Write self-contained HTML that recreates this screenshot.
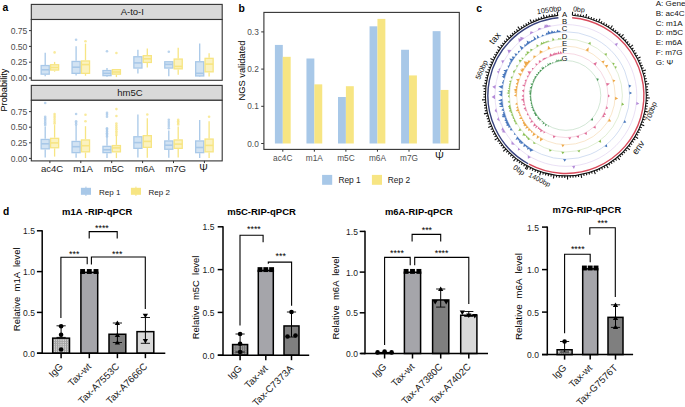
<!DOCTYPE html>
<html><head><meta charset="utf-8"><style>
html,body{margin:0;padding:0;background:#fff;width:685px;height:407px;overflow:hidden}
svg{display:block}
text{font-family:"Liberation Sans",sans-serif}
</style></head><body>
<svg width="685" height="407" viewBox="0 0 685 407">
<rect width="685" height="407" fill="#fff"/>
<text x="2.50" y="10.70" font-size="10.4" fill="#000" font-weight="bold">a</text>
<text x="238.60" y="11.60" font-size="10.4" fill="#000" font-weight="bold">b</text>
<text x="476.30" y="11.80" font-size="10.4" fill="#000" font-weight="bold">c</text>
<text x="3.00" y="214.80" font-size="10.2" fill="#000" font-weight="bold">d</text>
<rect x="31.30" y="4.40" width="190.90" height="15.10" fill="#d9d9d9" stroke="#333333" stroke-width="1.1"/>
<text x="132.30" y="15.45" font-size="9.5" fill="#1a1a1a" text-anchor="middle">A-to-I</text>
<rect x="31.30" y="85.40" width="190.90" height="14.90" fill="#d9d9d9" stroke="#333333" stroke-width="1.1"/>
<text x="130.00" y="96.35" font-size="9.5" fill="#1a1a1a" text-anchor="middle">hm5C</text>
<rect x="31.30" y="19.50" width="190.90" height="60.80" fill="#fff"/>
<line x1="45.20" y1="52.70" x2="45.20" y2="64.90" stroke="#a8c8e8" stroke-width="1.3"/>
<line x1="45.20" y1="74.80" x2="45.20" y2="76.30" stroke="#a8c8e8" stroke-width="1.3"/>
<rect x="41.15" y="65.55" width="8.10" height="8.60" fill="#d2e3f3" stroke="#a8c8e8" stroke-width="1.3"/>
<line x1="41.15" y1="69.80" x2="49.25" y2="69.80" stroke="#a8c8e8" stroke-width="1.6"/>
<line x1="54.60" y1="61.90" x2="54.60" y2="64.10" stroke="#f7e583" stroke-width="1.3"/>
<line x1="54.60" y1="70.70" x2="54.60" y2="71.70" stroke="#f7e583" stroke-width="1.3"/>
<rect x="50.55" y="64.75" width="8.10" height="5.30" fill="#fbf2c0" stroke="#f7e583" stroke-width="1.3"/>
<line x1="50.55" y1="67.50" x2="58.65" y2="67.50" stroke="#f7e583" stroke-width="1.6"/>
<circle cx="54.60" cy="52.40" r="1.3" fill="#f7e583" fill-opacity="0.8"/>
<line x1="76.10" y1="46.20" x2="76.10" y2="60.80" stroke="#a8c8e8" stroke-width="1.3"/>
<line x1="76.10" y1="74.00" x2="76.10" y2="75.60" stroke="#a8c8e8" stroke-width="1.3"/>
<rect x="72.05" y="61.45" width="8.10" height="11.90" fill="#d2e3f3" stroke="#a8c8e8" stroke-width="1.3"/>
<line x1="72.05" y1="67.20" x2="80.15" y2="67.20" stroke="#a8c8e8" stroke-width="1.6"/>
<circle cx="76.10" cy="39.80" r="1.3" fill="#a8c8e8" fill-opacity="0.8"/>
<line x1="85.50" y1="43.60" x2="85.50" y2="60.30" stroke="#f7e583" stroke-width="1.3"/>
<line x1="85.50" y1="74.00" x2="85.50" y2="75.80" stroke="#f7e583" stroke-width="1.3"/>
<rect x="81.45" y="60.95" width="8.10" height="12.40" fill="#fbf2c0" stroke="#f7e583" stroke-width="1.3"/>
<line x1="81.45" y1="64.60" x2="89.55" y2="64.60" stroke="#f7e583" stroke-width="1.6"/>
<circle cx="85.50" cy="41.30" r="1.3" fill="#f7e583" fill-opacity="0.8"/>
<line x1="107.00" y1="68.00" x2="107.00" y2="69.90" stroke="#a8c8e8" stroke-width="1.3"/>
<line x1="107.00" y1="76.30" x2="107.00" y2="77.00" stroke="#a8c8e8" stroke-width="1.3"/>
<rect x="102.95" y="70.55" width="8.10" height="5.10" fill="#d2e3f3" stroke="#a8c8e8" stroke-width="1.3"/>
<line x1="102.95" y1="73.30" x2="111.05" y2="73.30" stroke="#a8c8e8" stroke-width="1.6"/>
<circle cx="107.00" cy="51.20" r="1.3" fill="#a8c8e8" fill-opacity="0.8"/>
<line x1="116.40" y1="69.00" x2="116.40" y2="69.00" stroke="#f7e583" stroke-width="1.3"/>
<line x1="116.40" y1="74.80" x2="116.40" y2="77.10" stroke="#f7e583" stroke-width="1.3"/>
<rect x="112.35" y="69.65" width="8.10" height="4.50" fill="#fbf2c0" stroke="#f7e583" stroke-width="1.3"/>
<line x1="112.35" y1="72.00" x2="120.45" y2="72.00" stroke="#f7e583" stroke-width="1.6"/>
<circle cx="116.40" cy="53.00" r="1.3" fill="#f7e583" fill-opacity="0.8"/>
<line x1="137.90" y1="49.70" x2="137.90" y2="56.10" stroke="#a8c8e8" stroke-width="1.3"/>
<line x1="137.90" y1="68.70" x2="137.90" y2="73.60" stroke="#a8c8e8" stroke-width="1.3"/>
<rect x="133.85" y="56.75" width="8.10" height="11.30" fill="#d2e3f3" stroke="#a8c8e8" stroke-width="1.3"/>
<line x1="133.85" y1="62.90" x2="141.95" y2="62.90" stroke="#a8c8e8" stroke-width="1.6"/>
<line x1="147.30" y1="48.60" x2="147.30" y2="55.00" stroke="#f7e583" stroke-width="1.3"/>
<line x1="147.30" y1="63.10" x2="147.30" y2="67.50" stroke="#f7e583" stroke-width="1.3"/>
<rect x="143.25" y="55.65" width="8.10" height="6.80" fill="#fbf2c0" stroke="#f7e583" stroke-width="1.3"/>
<line x1="143.25" y1="58.80" x2="151.35" y2="58.80" stroke="#f7e583" stroke-width="1.6"/>
<line x1="168.80" y1="61.10" x2="168.80" y2="61.10" stroke="#a8c8e8" stroke-width="1.3"/>
<line x1="168.80" y1="68.70" x2="168.80" y2="76.30" stroke="#a8c8e8" stroke-width="1.3"/>
<rect x="164.75" y="61.75" width="8.10" height="6.30" fill="#d2e3f3" stroke="#a8c8e8" stroke-width="1.3"/>
<line x1="164.75" y1="64.40" x2="172.85" y2="64.40" stroke="#a8c8e8" stroke-width="1.6"/>
<circle cx="168.80" cy="51.70" r="1.3" fill="#a8c8e8" fill-opacity="0.8"/>
<line x1="178.20" y1="47.70" x2="178.20" y2="58.40" stroke="#f7e583" stroke-width="1.3"/>
<line x1="178.20" y1="69.50" x2="178.20" y2="74.80" stroke="#f7e583" stroke-width="1.3"/>
<rect x="174.15" y="59.05" width="8.10" height="9.80" fill="#fbf2c0" stroke="#f7e583" stroke-width="1.3"/>
<line x1="174.15" y1="66.40" x2="182.25" y2="66.40" stroke="#f7e583" stroke-width="1.6"/>
<line x1="199.70" y1="43.60" x2="199.70" y2="61.10" stroke="#a8c8e8" stroke-width="1.3"/>
<line x1="199.70" y1="76.60" x2="199.70" y2="77.00" stroke="#a8c8e8" stroke-width="1.3"/>
<rect x="195.65" y="61.75" width="8.10" height="14.20" fill="#d2e3f3" stroke="#a8c8e8" stroke-width="1.3"/>
<line x1="195.65" y1="73.30" x2="203.75" y2="73.30" stroke="#a8c8e8" stroke-width="1.6"/>
<line x1="209.10" y1="53.20" x2="209.10" y2="57.70" stroke="#f7e583" stroke-width="1.3"/>
<line x1="209.10" y1="72.50" x2="209.10" y2="76.60" stroke="#f7e583" stroke-width="1.3"/>
<rect x="205.05" y="58.35" width="8.10" height="13.50" fill="#fbf2c0" stroke="#f7e583" stroke-width="1.3"/>
<line x1="205.05" y1="64.10" x2="213.15" y2="64.10" stroke="#f7e583" stroke-width="1.6"/>
<rect x="31.30" y="19.50" width="190.90" height="60.80" fill="none" stroke="#333333" stroke-width="1.1"/>
<rect x="31.30" y="100.30" width="190.90" height="60.60" fill="#fff"/>
<line x1="45.20" y1="126.60" x2="45.20" y2="138.80" stroke="#a8c8e8" stroke-width="1.3"/>
<line x1="45.20" y1="149.50" x2="45.20" y2="157.50" stroke="#a8c8e8" stroke-width="1.3"/>
<rect x="41.15" y="139.45" width="8.10" height="9.40" fill="#d2e3f3" stroke="#a8c8e8" stroke-width="1.3"/>
<line x1="41.15" y1="143.80" x2="49.25" y2="143.80" stroke="#a8c8e8" stroke-width="1.6"/>
<circle cx="45.20" cy="103.00" r="1.3" fill="#a8c8e8" fill-opacity="0.8"/>
<circle cx="45.20" cy="116.70" r="1.3" fill="#a8c8e8" fill-opacity="0.8"/>
<circle cx="45.20" cy="118.38" r="1.3" fill="#a8c8e8" fill-opacity="0.8"/>
<circle cx="45.20" cy="120.06" r="1.3" fill="#a8c8e8" fill-opacity="0.8"/>
<circle cx="45.20" cy="121.74" r="1.3" fill="#a8c8e8" fill-opacity="0.8"/>
<circle cx="45.20" cy="123.42" r="1.3" fill="#a8c8e8" fill-opacity="0.8"/>
<circle cx="45.20" cy="125.10" r="1.3" fill="#a8c8e8" fill-opacity="0.8"/>
<line x1="54.60" y1="125.10" x2="54.60" y2="137.70" stroke="#f7e583" stroke-width="1.3"/>
<line x1="54.60" y1="148.40" x2="54.60" y2="156.60" stroke="#f7e583" stroke-width="1.3"/>
<rect x="50.55" y="138.35" width="8.10" height="9.40" fill="#fbf2c0" stroke="#f7e583" stroke-width="1.3"/>
<line x1="50.55" y1="142.90" x2="58.65" y2="142.90" stroke="#f7e583" stroke-width="1.6"/>
<circle cx="54.60" cy="114.00" r="1.3" fill="#f7e583" fill-opacity="0.8"/>
<circle cx="54.60" cy="115.92" r="1.3" fill="#f7e583" fill-opacity="0.8"/>
<circle cx="54.60" cy="117.84" r="1.3" fill="#f7e583" fill-opacity="0.8"/>
<circle cx="54.60" cy="119.76" r="1.3" fill="#f7e583" fill-opacity="0.8"/>
<circle cx="54.60" cy="121.68" r="1.3" fill="#f7e583" fill-opacity="0.8"/>
<circle cx="54.60" cy="123.60" r="1.3" fill="#f7e583" fill-opacity="0.8"/>
<line x1="76.10" y1="125.10" x2="76.10" y2="140.80" stroke="#a8c8e8" stroke-width="1.3"/>
<line x1="76.10" y1="153.30" x2="76.10" y2="157.80" stroke="#a8c8e8" stroke-width="1.3"/>
<rect x="72.05" y="141.45" width="8.10" height="11.20" fill="#d2e3f3" stroke="#a8c8e8" stroke-width="1.3"/>
<line x1="72.05" y1="146.70" x2="80.15" y2="146.70" stroke="#a8c8e8" stroke-width="1.6"/>
<circle cx="76.10" cy="114.00" r="1.3" fill="#a8c8e8" fill-opacity="0.8"/>
<circle cx="76.10" cy="121.30" r="1.3" fill="#a8c8e8" fill-opacity="0.8"/>
<circle cx="76.10" cy="122.80" r="1.3" fill="#a8c8e8" fill-opacity="0.8"/>
<circle cx="76.10" cy="124.40" r="1.3" fill="#a8c8e8" fill-opacity="0.8"/>
<line x1="85.50" y1="126.20" x2="85.50" y2="139.30" stroke="#f7e583" stroke-width="1.3"/>
<line x1="85.50" y1="152.50" x2="85.50" y2="158.10" stroke="#f7e583" stroke-width="1.3"/>
<rect x="81.45" y="139.95" width="8.10" height="11.90" fill="#fbf2c0" stroke="#f7e583" stroke-width="1.3"/>
<line x1="81.45" y1="145.70" x2="89.55" y2="145.70" stroke="#f7e583" stroke-width="1.6"/>
<circle cx="85.50" cy="114.80" r="1.3" fill="#f7e583" fill-opacity="0.8"/>
<circle cx="85.50" cy="121.30" r="1.3" fill="#f7e583" fill-opacity="0.8"/>
<line x1="107.00" y1="128.20" x2="107.00" y2="145.70" stroke="#a8c8e8" stroke-width="1.3"/>
<line x1="107.00" y1="153.30" x2="107.00" y2="158.10" stroke="#a8c8e8" stroke-width="1.3"/>
<rect x="102.95" y="146.35" width="8.10" height="6.30" fill="#d2e3f3" stroke="#a8c8e8" stroke-width="1.3"/>
<line x1="102.95" y1="149.80" x2="111.05" y2="149.80" stroke="#a8c8e8" stroke-width="1.6"/>
<circle cx="107.00" cy="112.90" r="1.3" fill="#a8c8e8" fill-opacity="0.8"/>
<circle cx="107.00" cy="114.80" r="1.3" fill="#a8c8e8" fill-opacity="0.8"/>
<circle cx="107.00" cy="116.70" r="1.3" fill="#a8c8e8" fill-opacity="0.8"/>
<circle cx="107.00" cy="128.20" r="1.3" fill="#a8c8e8" fill-opacity="0.8"/>
<circle cx="107.00" cy="129.86" r="1.3" fill="#a8c8e8" fill-opacity="0.8"/>
<circle cx="107.00" cy="131.52" r="1.3" fill="#a8c8e8" fill-opacity="0.8"/>
<circle cx="107.00" cy="133.18" r="1.3" fill="#a8c8e8" fill-opacity="0.8"/>
<circle cx="107.00" cy="134.84" r="1.3" fill="#a8c8e8" fill-opacity="0.8"/>
<circle cx="107.00" cy="136.50" r="1.3" fill="#a8c8e8" fill-opacity="0.8"/>
<line x1="116.40" y1="135.00" x2="116.40" y2="144.90" stroke="#f7e583" stroke-width="1.3"/>
<line x1="116.40" y1="152.50" x2="116.40" y2="158.10" stroke="#f7e583" stroke-width="1.3"/>
<rect x="112.35" y="145.55" width="8.10" height="6.30" fill="#fbf2c0" stroke="#f7e583" stroke-width="1.3"/>
<line x1="112.35" y1="147.90" x2="120.45" y2="147.90" stroke="#f7e583" stroke-width="1.6"/>
<circle cx="116.40" cy="109.10" r="1.3" fill="#f7e583" fill-opacity="0.8"/>
<circle cx="116.40" cy="116.00" r="1.3" fill="#f7e583" fill-opacity="0.8"/>
<circle cx="116.40" cy="123.60" r="1.3" fill="#f7e583" fill-opacity="0.8"/>
<circle cx="116.40" cy="125.50" r="1.3" fill="#f7e583" fill-opacity="0.8"/>
<circle cx="116.40" cy="127.40" r="1.3" fill="#f7e583" fill-opacity="0.8"/>
<circle cx="116.40" cy="129.30" r="1.3" fill="#f7e583" fill-opacity="0.8"/>
<circle cx="116.40" cy="131.20" r="1.3" fill="#f7e583" fill-opacity="0.8"/>
<circle cx="116.40" cy="133.10" r="1.3" fill="#f7e583" fill-opacity="0.8"/>
<circle cx="116.40" cy="135.00" r="1.3" fill="#f7e583" fill-opacity="0.8"/>
<line x1="137.90" y1="114.50" x2="137.90" y2="136.10" stroke="#a8c8e8" stroke-width="1.3"/>
<line x1="137.90" y1="149.00" x2="137.90" y2="157.50" stroke="#a8c8e8" stroke-width="1.3"/>
<rect x="133.85" y="136.75" width="8.10" height="11.60" fill="#d2e3f3" stroke="#a8c8e8" stroke-width="1.3"/>
<line x1="133.85" y1="142.60" x2="141.95" y2="142.60" stroke="#a8c8e8" stroke-width="1.6"/>
<line x1="147.30" y1="118.30" x2="147.30" y2="135.00" stroke="#f7e583" stroke-width="1.3"/>
<line x1="147.30" y1="148.00" x2="147.30" y2="157.80" stroke="#f7e583" stroke-width="1.3"/>
<rect x="143.25" y="135.65" width="8.10" height="11.70" fill="#fbf2c0" stroke="#f7e583" stroke-width="1.3"/>
<line x1="143.25" y1="141.40" x2="151.35" y2="141.40" stroke="#f7e583" stroke-width="1.6"/>
<circle cx="147.30" cy="114.50" r="1.3" fill="#f7e583" fill-opacity="0.8"/>
<line x1="168.80" y1="130.40" x2="168.80" y2="140.30" stroke="#a8c8e8" stroke-width="1.3"/>
<line x1="168.80" y1="149.90" x2="168.80" y2="157.80" stroke="#a8c8e8" stroke-width="1.3"/>
<rect x="164.75" y="140.95" width="8.10" height="8.30" fill="#d2e3f3" stroke="#a8c8e8" stroke-width="1.3"/>
<line x1="164.75" y1="145.20" x2="172.85" y2="145.20" stroke="#a8c8e8" stroke-width="1.6"/>
<circle cx="168.80" cy="119.80" r="1.3" fill="#a8c8e8" fill-opacity="0.8"/>
<circle cx="168.80" cy="121.90" r="1.3" fill="#a8c8e8" fill-opacity="0.8"/>
<circle cx="168.80" cy="124.00" r="1.3" fill="#a8c8e8" fill-opacity="0.8"/>
<circle cx="168.80" cy="126.10" r="1.3" fill="#a8c8e8" fill-opacity="0.8"/>
<circle cx="168.80" cy="128.20" r="1.3" fill="#a8c8e8" fill-opacity="0.8"/>
<line x1="178.20" y1="126.60" x2="178.20" y2="139.30" stroke="#f7e583" stroke-width="1.3"/>
<line x1="178.20" y1="149.00" x2="178.20" y2="157.50" stroke="#f7e583" stroke-width="1.3"/>
<rect x="174.15" y="139.95" width="8.10" height="8.40" fill="#fbf2c0" stroke="#f7e583" stroke-width="1.3"/>
<line x1="174.15" y1="144.10" x2="182.25" y2="144.10" stroke="#f7e583" stroke-width="1.6"/>
<circle cx="178.20" cy="119.80" r="1.3" fill="#f7e583" fill-opacity="0.8"/>
<circle cx="178.20" cy="121.33" r="1.3" fill="#f7e583" fill-opacity="0.8"/>
<circle cx="178.20" cy="122.87" r="1.3" fill="#f7e583" fill-opacity="0.8"/>
<circle cx="178.20" cy="124.40" r="1.3" fill="#f7e583" fill-opacity="0.8"/>
<line x1="199.70" y1="120.10" x2="199.70" y2="140.30" stroke="#a8c8e8" stroke-width="1.3"/>
<line x1="199.70" y1="153.30" x2="199.70" y2="158.10" stroke="#a8c8e8" stroke-width="1.3"/>
<rect x="195.65" y="140.95" width="8.10" height="11.70" fill="#d2e3f3" stroke="#a8c8e8" stroke-width="1.3"/>
<line x1="195.65" y1="147.50" x2="203.75" y2="147.50" stroke="#a8c8e8" stroke-width="1.6"/>
<line x1="209.10" y1="121.30" x2="209.10" y2="138.40" stroke="#f7e583" stroke-width="1.3"/>
<line x1="209.10" y1="152.50" x2="209.10" y2="158.10" stroke="#f7e583" stroke-width="1.3"/>
<rect x="205.05" y="139.05" width="8.10" height="12.80" fill="#fbf2c0" stroke="#f7e583" stroke-width="1.3"/>
<line x1="205.05" y1="145.40" x2="213.15" y2="145.40" stroke="#f7e583" stroke-width="1.6"/>
<circle cx="209.10" cy="116.70" r="1.3" fill="#f7e583" fill-opacity="0.8"/>
<rect x="31.30" y="100.30" width="190.90" height="60.60" fill="none" stroke="#333333" stroke-width="1.1"/>
<line x1="29.00" y1="78.00" x2="31.30" y2="78.00" stroke="#333333" stroke-width="1"/>
<text x="27.40" y="81.10" font-size="8.6" fill="#4d4d4d" text-anchor="end">0.00</text>
<line x1="29.00" y1="62.20" x2="31.30" y2="62.20" stroke="#333333" stroke-width="1"/>
<text x="27.40" y="65.30" font-size="8.6" fill="#4d4d4d" text-anchor="end">0.25</text>
<line x1="29.00" y1="46.40" x2="31.30" y2="46.40" stroke="#333333" stroke-width="1"/>
<text x="27.40" y="49.50" font-size="8.6" fill="#4d4d4d" text-anchor="end">0.50</text>
<line x1="29.00" y1="30.60" x2="31.30" y2="30.60" stroke="#333333" stroke-width="1"/>
<text x="27.40" y="33.70" font-size="8.6" fill="#4d4d4d" text-anchor="end">0.75</text>
<line x1="29.00" y1="158.40" x2="31.30" y2="158.40" stroke="#333333" stroke-width="1"/>
<text x="27.40" y="161.50" font-size="8.6" fill="#4d4d4d" text-anchor="end">0.00</text>
<line x1="29.00" y1="142.80" x2="31.30" y2="142.80" stroke="#333333" stroke-width="1"/>
<text x="27.40" y="145.90" font-size="8.6" fill="#4d4d4d" text-anchor="end">0.25</text>
<line x1="29.00" y1="127.20" x2="31.30" y2="127.20" stroke="#333333" stroke-width="1"/>
<text x="27.40" y="130.30" font-size="8.6" fill="#4d4d4d" text-anchor="end">0.50</text>
<line x1="29.00" y1="111.60" x2="31.30" y2="111.60" stroke="#333333" stroke-width="1"/>
<text x="27.40" y="114.70" font-size="8.6" fill="#4d4d4d" text-anchor="end">0.75</text>
<line x1="49.90" y1="160.90" x2="49.90" y2="163.10" stroke="#333333" stroke-width="1"/>
<line x1="80.80" y1="160.90" x2="80.80" y2="163.10" stroke="#333333" stroke-width="1"/>
<line x1="111.70" y1="160.90" x2="111.70" y2="163.10" stroke="#333333" stroke-width="1"/>
<line x1="142.60" y1="160.90" x2="142.60" y2="163.10" stroke="#333333" stroke-width="1"/>
<line x1="173.50" y1="160.90" x2="173.50" y2="163.10" stroke="#333333" stroke-width="1"/>
<line x1="204.40" y1="160.90" x2="204.40" y2="163.10" stroke="#333333" stroke-width="1"/>
<text x="52.10" y="171.60" font-size="9.6" fill="#1a1a1a" text-anchor="middle">ac4C</text>
<text x="83.00" y="171.60" font-size="9.6" fill="#1a1a1a" text-anchor="middle">m1A</text>
<text x="113.90" y="171.60" font-size="9.6" fill="#1a1a1a" text-anchor="middle">m5C</text>
<text x="144.80" y="171.60" font-size="9.6" fill="#1a1a1a" text-anchor="middle">m6A</text>
<text x="175.70" y="171.60" font-size="9.6" fill="#1a1a1a" text-anchor="middle">m7G</text>
<text x="203.50" y="171.80" font-size="10.2" fill="#1a1a1a" text-anchor="middle">Ψ</text>
<text x="7.30" y="90.10" font-size="9.2" fill="#000" text-anchor="middle" transform="rotate(-90.00 7.30 90.10)">Probability</text>
<rect x="80.90" y="187.80" width="10.10" height="7.00" fill="#a8c8e8"/>
<line x1="85.95" y1="186.60" x2="85.95" y2="196.00" stroke="#a8c8e8" stroke-width="1"/>
<text x="99.00" y="194.50" font-size="8.0" fill="#1a1a1a">Rep 1</text>
<rect x="130.90" y="187.80" width="10.10" height="7.00" fill="#f7e583"/>
<line x1="135.95" y1="186.60" x2="135.95" y2="196.00" stroke="#f7e583" stroke-width="1"/>
<text x="148.60" y="194.50" font-size="8.0" fill="#1a1a1a">Rep 2</text>
<rect x="274.90" y="44.92" width="7.90" height="98.58" fill="#a8c8e8"/>
<rect x="282.80" y="56.82" width="7.90" height="86.68" fill="#f7e583"/>
<rect x="306.45" y="58.50" width="7.90" height="85.00" fill="#a8c8e8"/>
<rect x="314.35" y="84.35" width="7.90" height="59.15" fill="#f7e583"/>
<rect x="338.00" y="97.00" width="7.90" height="46.50" fill="#a8c8e8"/>
<rect x="345.90" y="86.21" width="7.90" height="57.29" fill="#f7e583"/>
<rect x="369.55" y="26.32" width="7.90" height="117.18" fill="#a8c8e8"/>
<rect x="377.45" y="18.88" width="7.90" height="124.62" fill="#f7e583"/>
<rect x="401.10" y="49.76" width="7.90" height="93.74" fill="#a8c8e8"/>
<rect x="409.00" y="75.42" width="7.90" height="68.08" fill="#f7e583"/>
<rect x="432.65" y="31.16" width="7.90" height="112.34" fill="#a8c8e8"/>
<rect x="440.55" y="89.93" width="7.90" height="53.57" fill="#f7e583"/>
<rect x="263.90" y="12.40" width="195.40" height="137.00" fill="none" stroke="#333333" stroke-width="1.1"/>
<line x1="261.20" y1="143.50" x2="263.90" y2="143.50" stroke="#333333" stroke-width="1"/>
<text x="258.80" y="146.50" font-size="8.3" fill="#4d4d4d" text-anchor="end">0.0</text>
<line x1="261.20" y1="106.30" x2="263.90" y2="106.30" stroke="#333333" stroke-width="1"/>
<text x="258.80" y="109.30" font-size="8.3" fill="#4d4d4d" text-anchor="end">0.1</text>
<line x1="261.20" y1="69.10" x2="263.90" y2="69.10" stroke="#333333" stroke-width="1"/>
<text x="258.80" y="72.10" font-size="8.3" fill="#4d4d4d" text-anchor="end">0.2</text>
<line x1="261.20" y1="31.90" x2="263.90" y2="31.90" stroke="#333333" stroke-width="1"/>
<text x="258.80" y="34.90" font-size="8.3" fill="#4d4d4d" text-anchor="end">0.3</text>
<line x1="282.80" y1="149.40" x2="282.80" y2="151.70" stroke="#333333" stroke-width="1"/>
<text x="282.80" y="160.50" font-size="8.3" fill="#4d4d4d" text-anchor="middle">ac4C</text>
<line x1="314.35" y1="149.40" x2="314.35" y2="151.70" stroke="#333333" stroke-width="1"/>
<text x="314.35" y="160.50" font-size="8.3" fill="#4d4d4d" text-anchor="middle">m1A</text>
<line x1="345.90" y1="149.40" x2="345.90" y2="151.70" stroke="#333333" stroke-width="1"/>
<text x="345.90" y="160.50" font-size="8.3" fill="#4d4d4d" text-anchor="middle">m5C</text>
<line x1="377.45" y1="149.40" x2="377.45" y2="151.70" stroke="#333333" stroke-width="1"/>
<text x="377.45" y="160.50" font-size="8.3" fill="#4d4d4d" text-anchor="middle">m6A</text>
<line x1="409.00" y1="149.40" x2="409.00" y2="151.70" stroke="#333333" stroke-width="1"/>
<text x="409.00" y="160.50" font-size="8.3" fill="#4d4d4d" text-anchor="middle">m7G</text>
<line x1="440.55" y1="149.40" x2="440.55" y2="151.70" stroke="#333333" stroke-width="1"/>
<text x="439.35" y="160.30" font-size="10.6" fill="#1a1a1a" text-anchor="middle">Ψ</text>
<text x="245.00" y="70.50" font-size="9.3" fill="#000" text-anchor="middle" transform="rotate(-90.00 245.00 70.50)">NGS validated</text>
<rect x="322.10" y="174.90" width="10.10" height="9.90" fill="#a8c8e8"/>
<text x="338.40" y="183.00" font-size="8.4" fill="#1a1a1a">Rep 1</text>
<rect x="371.90" y="174.90" width="10.10" height="9.90" fill="#f7e583"/>
<text x="387.80" y="183.00" font-size="8.4" fill="#1a1a1a">Rep 2</text>
<defs><pattern id="grid" width="2.2" height="2.2" patternUnits="userSpaceOnUse"><rect width="2.2" height="2.2" fill="#dadada"/><rect width="1" height="2.2" fill="#969696"/><rect width="2.2" height="0.8" fill="#a6a6a6"/></pattern><pattern id="grid2" width="2.2" height="2.2" patternUnits="userSpaceOnUse"><rect width="2.2" height="2.2" fill="#a9a9a9"/><rect width="1" height="2.2" fill="#707070"/><rect width="2.2" height="0.8" fill="#7a7a7a"/></pattern></defs>
<rect x="52.70" y="338.15" width="16.80" height="15.05" fill="url(#grid)" stroke="#000" stroke-width="1.5"/>
<line x1="61.10" y1="325.80" x2="61.10" y2="337.40" stroke="#000" stroke-width="1.0"/>
<line x1="56.50" y1="325.80" x2="65.70" y2="325.80" stroke="#000" stroke-width="0.9"/>
<line x1="56.50" y1="337.40" x2="65.70" y2="337.40" stroke="#000" stroke-width="0.9"/>
<circle cx="61.10" cy="326.20" r="2.30" fill="#000"/>
<circle cx="61.10" cy="334.70" r="2.30" fill="#000"/>
<circle cx="61.10" cy="349.50" r="2.30" fill="#000"/>
<rect x="80.90" y="272.35" width="16.80" height="80.85" fill="#a5a5aa" stroke="#000" stroke-width="1.5"/>
<rect x="80.15" y="269.05" width="4.90" height="4.90" fill="#000"/>
<rect x="86.85" y="269.05" width="4.90" height="4.90" fill="#000"/>
<rect x="93.55" y="269.05" width="4.90" height="4.90" fill="#000"/>
<rect x="109.00" y="334.25" width="16.80" height="18.95" fill="#7f7f7f" stroke="#000" stroke-width="1.5"/>
<line x1="117.40" y1="323.00" x2="117.40" y2="342.50" stroke="#000" stroke-width="1.0"/>
<line x1="112.80" y1="323.00" x2="122.00" y2="323.00" stroke="#000" stroke-width="0.9"/>
<line x1="112.80" y1="342.50" x2="122.00" y2="342.50" stroke="#000" stroke-width="0.9"/>
<path d="M114.76,324.97L120.05,324.97L117.40,320.60Z" fill="#000"/>
<path d="M114.76,336.97L120.05,336.97L117.40,332.60Z" fill="#000"/>
<path d="M114.76,344.47L120.05,344.47L117.40,340.10Z" fill="#000"/>
<rect x="137.00" y="331.65" width="16.80" height="21.55" fill="#d9d9d9" stroke="#000" stroke-width="1.5"/>
<line x1="145.40" y1="317.50" x2="145.40" y2="343.30" stroke="#000" stroke-width="1.0"/>
<line x1="140.80" y1="317.50" x2="150.00" y2="317.50" stroke="#000" stroke-width="0.9"/>
<line x1="140.80" y1="343.30" x2="150.00" y2="343.30" stroke="#000" stroke-width="0.9"/>
<path d="M142.75,313.63L148.05,313.63L145.40,318.00Z" fill="#000"/>
<path d="M142.75,339.03L148.05,339.03L145.40,343.40Z" fill="#000"/>
<line x1="42.20" y1="230.20" x2="42.20" y2="353.90" stroke="#000" stroke-width="1.5"/>
<line x1="37.10" y1="353.20" x2="165.30" y2="353.20" stroke="#000" stroke-width="1.5"/>
<line x1="36.90" y1="353.20" x2="42.20" y2="353.20" stroke="#000" stroke-width="1.5"/>
<text x="34.90" y="356.70" font-size="8.5" fill="#1a1a1a" text-anchor="end">0.0</text>
<line x1="36.90" y1="312.40" x2="42.20" y2="312.40" stroke="#000" stroke-width="1.5"/>
<text x="34.90" y="315.90" font-size="8.5" fill="#1a1a1a" text-anchor="end">0.5</text>
<line x1="36.90" y1="271.60" x2="42.20" y2="271.60" stroke="#000" stroke-width="1.5"/>
<text x="34.90" y="275.10" font-size="8.5" fill="#1a1a1a" text-anchor="end">1.0</text>
<line x1="36.90" y1="230.80" x2="42.20" y2="230.80" stroke="#000" stroke-width="1.5"/>
<text x="34.90" y="234.30" font-size="8.5" fill="#1a1a1a" text-anchor="end">1.5</text>
<line x1="61.10" y1="353.20" x2="61.10" y2="358.20" stroke="#000" stroke-width="1.5"/>
<text x="63.70" y="367.10" font-size="9.7" fill="#1a1a1a" text-anchor="end" transform="rotate(-45.00 63.70 367.10)">IgG</text>
<line x1="89.30" y1="353.20" x2="89.30" y2="358.20" stroke="#000" stroke-width="1.5"/>
<text x="91.90" y="367.10" font-size="9.7" fill="#1a1a1a" text-anchor="end" transform="rotate(-45.00 91.90 367.10)">Tax-wt</text>
<line x1="117.40" y1="353.20" x2="117.40" y2="358.20" stroke="#000" stroke-width="1.5"/>
<text x="120.00" y="367.10" font-size="9.7" fill="#1a1a1a" text-anchor="end" transform="rotate(-45.00 120.00 367.10)">Tax-A7553C</text>
<line x1="145.40" y1="353.20" x2="145.40" y2="358.20" stroke="#000" stroke-width="1.5"/>
<text x="148.00" y="367.10" font-size="9.7" fill="#1a1a1a" text-anchor="end" transform="rotate(-45.00 148.00 367.10)">Tax-A7666C</text>
<path d="M60.90,318.00L60.90,257.30L87.20,257.30L87.20,264.20" fill="none" stroke="#000" stroke-width="1.1"/>
<text x="74.20" y="257.20" font-size="8.9" fill="#000" text-anchor="middle">***</text>
<path d="M89.20,238.60L89.20,231.60L117.20,231.60L117.20,238.60" fill="none" stroke="#000" stroke-width="1.1"/>
<text x="101.90" y="231.30" font-size="8.9" fill="#000" text-anchor="middle">****</text>
<path d="M91.40,264.50L91.40,257.00L145.30,257.00L145.30,308.90" fill="none" stroke="#000" stroke-width="1.1"/>
<text x="117.20" y="256.80" font-size="8.9" fill="#000" text-anchor="middle">***</text>
<text x="62.10" y="214.60" font-size="9.3" fill="#000" font-weight="bold" textLength="70.3" lengthAdjust="spacingAndGlyphs">m1A -RIP-qPCR</text>
<text x="20.10" y="289.30" font-size="9.5" fill="#000" text-anchor="middle" transform="rotate(-90.00 20.10 289.30)" textLength="83.7" lengthAdjust="spacingAndGlyphs" xml:space="preserve">Relative  m1A  level</text>
<rect x="232.60" y="344.55" width="15.00" height="10.65" fill="url(#grid2)" stroke="#000" stroke-width="1.5"/>
<line x1="240.10" y1="334.00" x2="240.10" y2="352.00" stroke="#000" stroke-width="1.0"/>
<line x1="235.50" y1="334.00" x2="244.70" y2="334.00" stroke="#000" stroke-width="0.9"/>
<line x1="235.50" y1="352.00" x2="244.70" y2="352.00" stroke="#000" stroke-width="0.9"/>
<circle cx="240.10" cy="334.00" r="2.30" fill="#000"/>
<circle cx="240.10" cy="343.80" r="2.30" fill="#000"/>
<circle cx="240.10" cy="352.00" r="2.30" fill="#000"/>
<rect x="258.30" y="270.45" width="15.00" height="84.75" fill="#a5a5aa" stroke="#000" stroke-width="1.5"/>
<rect x="257.55" y="267.15" width="4.90" height="4.90" fill="#000"/>
<rect x="263.35" y="267.15" width="4.90" height="4.90" fill="#000"/>
<rect x="269.15" y="267.15" width="4.90" height="4.90" fill="#000"/>
<rect x="284.00" y="325.95" width="15.00" height="29.25" fill="#7f7f7f" stroke="#000" stroke-width="1.5"/>
<line x1="291.50" y1="312.00" x2="291.50" y2="337.00" stroke="#000" stroke-width="1.0"/>
<line x1="286.90" y1="312.00" x2="296.10" y2="312.00" stroke="#000" stroke-width="0.9"/>
<line x1="286.90" y1="337.00" x2="296.10" y2="337.00" stroke="#000" stroke-width="0.9"/>
<circle cx="291.50" cy="312.00" r="2.30" fill="#000"/>
<circle cx="287.50" cy="336.50" r="2.30" fill="#000"/>
<circle cx="295.50" cy="335.50" r="2.30" fill="#000"/>
<line x1="223.00" y1="226.20" x2="223.00" y2="355.90" stroke="#000" stroke-width="1.5"/>
<line x1="217.90" y1="355.20" x2="309.20" y2="355.20" stroke="#000" stroke-width="1.5"/>
<line x1="217.70" y1="355.20" x2="223.00" y2="355.20" stroke="#000" stroke-width="1.5"/>
<text x="214.40" y="358.70" font-size="8.5" fill="#1a1a1a" text-anchor="end">0.0</text>
<line x1="217.70" y1="312.40" x2="223.00" y2="312.40" stroke="#000" stroke-width="1.5"/>
<text x="214.40" y="315.90" font-size="8.5" fill="#1a1a1a" text-anchor="end">0.5</text>
<line x1="217.70" y1="269.60" x2="223.00" y2="269.60" stroke="#000" stroke-width="1.5"/>
<text x="214.40" y="273.10" font-size="8.5" fill="#1a1a1a" text-anchor="end">1.0</text>
<line x1="217.70" y1="226.80" x2="223.00" y2="226.80" stroke="#000" stroke-width="1.5"/>
<text x="214.40" y="230.30" font-size="8.5" fill="#1a1a1a" text-anchor="end">1.5</text>
<line x1="240.10" y1="355.20" x2="240.10" y2="360.20" stroke="#000" stroke-width="1.5"/>
<text x="242.70" y="369.10" font-size="9.7" fill="#1a1a1a" text-anchor="end" transform="rotate(-45.00 242.70 369.10)">IgG</text>
<line x1="265.80" y1="355.20" x2="265.80" y2="360.20" stroke="#000" stroke-width="1.5"/>
<text x="268.40" y="369.10" font-size="9.7" fill="#1a1a1a" text-anchor="end" transform="rotate(-45.00 268.40 369.10)">Tax-wt</text>
<line x1="291.50" y1="355.20" x2="291.50" y2="360.20" stroke="#000" stroke-width="1.5"/>
<text x="294.10" y="369.10" font-size="9.7" fill="#1a1a1a" text-anchor="end" transform="rotate(-45.00 294.10 369.10)">Tax-C7373A</text>
<path d="M240.00,325.60L240.00,235.20L263.10,235.20L263.10,242.20" fill="none" stroke="#000" stroke-width="1.1"/>
<text x="253.90" y="232.10" font-size="8.9" fill="#000" text-anchor="middle">****</text>
<path d="M268.30,263.80L268.30,262.10L291.60,262.10L291.60,305.70" fill="none" stroke="#000" stroke-width="1.1"/>
<text x="280.80" y="259.00" font-size="8.9" fill="#000" text-anchor="middle">***</text>
<text x="227.20" y="214.50" font-size="9.3" fill="#000" font-weight="bold" textLength="68.7" lengthAdjust="spacingAndGlyphs">m5C-RIP-qPCR</text>
<text x="199.10" y="297.40" font-size="9.5" fill="#000" text-anchor="middle" transform="rotate(-90.00 199.10 297.40)" textLength="83.6" lengthAdjust="spacingAndGlyphs" xml:space="preserve">Relative  m5C  level</text>
<rect x="376.50" y="352.65" width="16.20" height="0.85" fill="url(#grid)" stroke="#000" stroke-width="1.5"/>
<circle cx="377.60" cy="352.40" r="2.30" fill="#000"/>
<circle cx="384.60" cy="351.60" r="2.30" fill="#000"/>
<circle cx="391.60" cy="352.40" r="2.30" fill="#000"/>
<rect x="404.40" y="272.25" width="16.20" height="81.25" fill="#a5a5aa" stroke="#000" stroke-width="1.5"/>
<rect x="403.65" y="268.95" width="4.90" height="4.90" fill="#000"/>
<rect x="410.05" y="268.95" width="4.90" height="4.90" fill="#000"/>
<rect x="416.45" y="268.95" width="4.90" height="4.90" fill="#000"/>
<rect x="432.60" y="299.95" width="16.20" height="53.55" fill="#7f7f7f" stroke="#000" stroke-width="1.5"/>
<line x1="440.70" y1="289.00" x2="440.70" y2="307.10" stroke="#000" stroke-width="1.0"/>
<line x1="436.10" y1="289.00" x2="445.30" y2="289.00" stroke="#000" stroke-width="0.9"/>
<line x1="436.10" y1="307.10" x2="445.30" y2="307.10" stroke="#000" stroke-width="0.9"/>
<path d="M438.06,290.97L443.34,290.97L440.70,286.60Z" fill="#000"/>
<path d="M432.56,300.03L437.84,300.03L435.20,304.40Z" fill="#000"/>
<path d="M443.56,300.03L448.84,300.03L446.20,304.40Z" fill="#000"/>
<rect x="460.70" y="315.25" width="16.20" height="38.25" fill="#d9d9d9" stroke="#000" stroke-width="1.5"/>
<line x1="468.80" y1="311.50" x2="468.80" y2="316.40" stroke="#000" stroke-width="1.0"/>
<line x1="464.20" y1="311.50" x2="473.40" y2="311.50" stroke="#000" stroke-width="0.9"/>
<line x1="464.20" y1="316.40" x2="473.40" y2="316.40" stroke="#000" stroke-width="0.9"/>
<path d="M459.66,310.53L464.94,310.53L462.30,314.90Z" fill="#000"/>
<path d="M466.16,313.53L471.44,313.53L468.80,317.90Z" fill="#000"/>
<path d="M472.16,314.03L477.44,314.03L474.80,318.40Z" fill="#000"/>
<line x1="365.00" y1="230.80" x2="365.00" y2="354.20" stroke="#000" stroke-width="1.5"/>
<line x1="360.70" y1="353.50" x2="488.00" y2="353.50" stroke="#000" stroke-width="1.5"/>
<line x1="359.70" y1="353.50" x2="365.00" y2="353.50" stroke="#000" stroke-width="1.5"/>
<text x="357.90" y="357.00" font-size="8.5" fill="#1a1a1a" text-anchor="end">0.0</text>
<line x1="359.70" y1="312.80" x2="365.00" y2="312.80" stroke="#000" stroke-width="1.5"/>
<text x="357.90" y="316.30" font-size="8.5" fill="#1a1a1a" text-anchor="end">0.5</text>
<line x1="359.70" y1="272.10" x2="365.00" y2="272.10" stroke="#000" stroke-width="1.5"/>
<text x="357.90" y="275.60" font-size="8.5" fill="#1a1a1a" text-anchor="end">1.0</text>
<line x1="359.70" y1="231.40" x2="365.00" y2="231.40" stroke="#000" stroke-width="1.5"/>
<text x="357.90" y="234.90" font-size="8.5" fill="#1a1a1a" text-anchor="end">1.5</text>
<line x1="384.60" y1="353.50" x2="384.60" y2="358.50" stroke="#000" stroke-width="1.5"/>
<text x="387.20" y="367.40" font-size="9.7" fill="#1a1a1a" text-anchor="end" transform="rotate(-45.00 387.20 367.40)">IgG</text>
<line x1="412.50" y1="353.50" x2="412.50" y2="358.50" stroke="#000" stroke-width="1.5"/>
<text x="415.10" y="367.40" font-size="9.7" fill="#1a1a1a" text-anchor="end" transform="rotate(-45.00 415.10 367.40)">Tax-wt</text>
<line x1="440.70" y1="353.50" x2="440.70" y2="358.50" stroke="#000" stroke-width="1.5"/>
<text x="443.30" y="367.40" font-size="9.7" fill="#1a1a1a" text-anchor="end" transform="rotate(-45.00 443.30 367.40)">Tax-A7380C</text>
<line x1="468.80" y1="353.50" x2="468.80" y2="358.50" stroke="#000" stroke-width="1.5"/>
<text x="471.40" y="367.40" font-size="9.7" fill="#1a1a1a" text-anchor="end" transform="rotate(-45.00 471.40 367.40)">Tax-A7402C</text>
<path d="M384.60,344.90L384.60,257.40L410.20,257.40L410.20,265.20" fill="none" stroke="#000" stroke-width="1.1"/>
<text x="397.00" y="255.50" font-size="8.9" fill="#000" text-anchor="middle">****</text>
<path d="M412.10,241.60L412.10,234.40L440.70,234.40L440.70,241.60" fill="none" stroke="#000" stroke-width="1.1"/>
<text x="426.90" y="232.50" font-size="8.9" fill="#000" text-anchor="middle">***</text>
<path d="M414.70,265.20L414.70,257.40L468.80,257.40L468.80,304.00" fill="none" stroke="#000" stroke-width="1.1"/>
<text x="441.60" y="255.50" font-size="8.9" fill="#000" text-anchor="middle">****</text>
<text x="385.00" y="214.50" font-size="9.3" fill="#000" font-weight="bold" textLength="67.9" lengthAdjust="spacingAndGlyphs">m6A-RIP-qPCR</text>
<text x="339.20" y="297.90" font-size="9.5" fill="#000" text-anchor="middle" transform="rotate(-90.00 339.20 297.90)" textLength="83.2" lengthAdjust="spacingAndGlyphs" xml:space="preserve">Relative  m6A  level</text>
<rect x="557.10" y="349.75" width="15.00" height="4.85" fill="url(#grid)" stroke="#000" stroke-width="1.5"/>
<line x1="564.60" y1="341.50" x2="564.60" y2="352.00" stroke="#000" stroke-width="1.0"/>
<line x1="560.00" y1="341.50" x2="569.20" y2="341.50" stroke="#000" stroke-width="0.9"/>
<line x1="560.00" y1="352.00" x2="569.20" y2="352.00" stroke="#000" stroke-width="0.9"/>
<circle cx="564.60" cy="341.50" r="2.30" fill="#000"/>
<rect x="582.70" y="268.85" width="15.00" height="85.75" fill="#a5a5aa" stroke="#000" stroke-width="1.5"/>
<rect x="581.95" y="265.55" width="4.90" height="4.90" fill="#000"/>
<rect x="587.75" y="265.55" width="4.90" height="4.90" fill="#000"/>
<rect x="593.55" y="265.55" width="4.90" height="4.90" fill="#000"/>
<rect x="608.00" y="317.35" width="15.00" height="37.25" fill="#7f7f7f" stroke="#000" stroke-width="1.5"/>
<line x1="615.50" y1="304.80" x2="615.50" y2="327.40" stroke="#000" stroke-width="1.0"/>
<line x1="610.90" y1="304.80" x2="620.10" y2="304.80" stroke="#000" stroke-width="0.9"/>
<line x1="610.90" y1="327.40" x2="620.10" y2="327.40" stroke="#000" stroke-width="0.9"/>
<path d="M612.86,306.97L618.14,306.97L615.50,302.60Z" fill="#000"/>
<path d="M612.86,319.97L618.14,319.97L615.50,315.60Z" fill="#000"/>
<path d="M612.86,328.97L618.14,328.97L615.50,324.60Z" fill="#000"/>
<line x1="547.30" y1="226.50" x2="547.30" y2="355.30" stroke="#000" stroke-width="1.5"/>
<line x1="542.00" y1="354.60" x2="633.10" y2="354.60" stroke="#000" stroke-width="1.5"/>
<line x1="542.00" y1="354.60" x2="547.30" y2="354.60" stroke="#000" stroke-width="1.5"/>
<text x="538.90" y="358.10" font-size="8.5" fill="#1a1a1a" text-anchor="end">0.0</text>
<line x1="542.00" y1="312.10" x2="547.30" y2="312.10" stroke="#000" stroke-width="1.5"/>
<text x="538.90" y="315.60" font-size="8.5" fill="#1a1a1a" text-anchor="end">0.5</text>
<line x1="542.00" y1="269.60" x2="547.30" y2="269.60" stroke="#000" stroke-width="1.5"/>
<text x="538.90" y="273.10" font-size="8.5" fill="#1a1a1a" text-anchor="end">1.0</text>
<line x1="542.00" y1="227.10" x2="547.30" y2="227.10" stroke="#000" stroke-width="1.5"/>
<text x="538.90" y="230.60" font-size="8.5" fill="#1a1a1a" text-anchor="end">1.5</text>
<line x1="564.60" y1="354.60" x2="564.60" y2="359.60" stroke="#000" stroke-width="1.5"/>
<text x="567.20" y="368.50" font-size="9.7" fill="#1a1a1a" text-anchor="end" transform="rotate(-45.00 567.20 368.50)">IgG</text>
<line x1="590.20" y1="354.60" x2="590.20" y2="359.60" stroke="#000" stroke-width="1.5"/>
<text x="592.80" y="368.50" font-size="9.7" fill="#1a1a1a" text-anchor="end" transform="rotate(-45.00 592.80 368.50)">Tax-wt</text>
<line x1="615.50" y1="354.60" x2="615.50" y2="359.60" stroke="#000" stroke-width="1.5"/>
<text x="618.10" y="368.50" font-size="9.7" fill="#1a1a1a" text-anchor="end" transform="rotate(-45.00 618.10 368.50)">Tax-G7576T</text>
<path d="M564.60,333.30L564.60,254.30L590.20,254.30L590.20,262.20" fill="none" stroke="#000" stroke-width="1.1"/>
<text x="577.80" y="251.50" font-size="8.9" fill="#000" text-anchor="middle">****</text>
<path d="M589.80,234.70L589.80,227.80L615.30,227.80L615.30,296.90" fill="none" stroke="#000" stroke-width="1.1"/>
<text x="602.60" y="226.30" font-size="8.9" fill="#000" text-anchor="middle">***</text>
<text x="552.60" y="212.80" font-size="9.3" fill="#000" font-weight="bold" textLength="68.6" lengthAdjust="spacingAndGlyphs">m7G-RIP-qPCR</text>
<text x="521.80" y="296.60" font-size="9.5" fill="#000" text-anchor="middle" transform="rotate(-90.00 521.80 296.60)" textLength="87.0" lengthAdjust="spacingAndGlyphs" xml:space="preserve">Relative  m6A  level</text>
<path d="M572.16,17.70A78.0,78.0 0 1 1 529.04,164.19" fill="none" stroke="#d84a5b" stroke-width="1.4"/>
<path d="M528.20,163.74A78.0,78.0 0 0 1 558.42,17.81" fill="none" stroke="#38437e" stroke-width="1.4"/>
<path d="M572.35,15.31A80.4,80.4 0 1 1 558.19,15.42" fill="none" stroke="#111" stroke-width="1.1"/>
<path d="M572.35,15.31L572.64,11.72M575.05,15.57L575.29,13.49M577.75,15.93L578.05,13.85M580.43,16.37L580.81,14.31M583.09,16.91L583.54,14.86M585.73,17.53L586.62,14.05M588.35,18.25L588.94,16.23M590.95,19.05L591.60,17.06M593.52,19.94L594.24,17.97M596.05,20.92L596.84,18.97M598.55,21.98L600.01,18.69M601.02,23.12L601.93,21.24M603.44,24.35L604.42,22.50M605.82,25.66L606.86,23.84M608.16,27.05L609.26,25.26M610.44,28.52L612.44,25.52M612.68,30.06L613.90,28.35M614.86,31.68L616.14,30.01M616.99,33.37L618.32,31.75M619.06,35.13L620.45,33.55M621.06,36.96L623.53,34.34M623.01,38.86L624.50,37.38M624.89,40.82L626.43,39.39M626.70,42.84L628.29,41.47M628.44,44.93L630.08,43.61M630.11,47.07L632.99,44.90M631.71,49.27L633.43,48.06M633.24,51.52L634.99,50.37M634.68,53.82L636.48,52.73M636.05,56.16L637.88,55.14M637.34,58.56L640.53,56.91M638.54,60.99L640.44,60.09M639.66,63.47L641.59,62.63M640.70,65.98L642.66,65.21M641.66,68.52L643.63,67.82M642.52,71.10L645.95,70.00M643.30,73.70L645.32,73.13M643.99,76.33L646.03,75.83M644.59,78.98L646.65,78.54M645.11,81.64L647.17,81.28M645.53,84.33L649.09,83.83M645.86,87.02L647.95,86.80M646.10,89.73L648.19,89.58M646.24,92.44L648.34,92.36M646.30,95.16L648.40,95.15M646.26,97.88L649.86,97.98M646.14,100.59L648.23,100.72M645.92,103.30L648.01,103.50M645.61,106.00L647.69,106.27M645.20,108.68L647.27,109.03M644.71,111.36L648.24,112.07M644.13,114.01L646.17,114.49M643.46,116.64L645.48,117.20M642.70,119.25L644.70,119.87M641.85,121.83L643.83,122.52M640.91,124.38L644.27,125.68M639.89,126.90L641.83,127.72M638.79,129.38L640.69,130.27M637.60,131.83L639.47,132.78M636.33,134.23L638.17,135.24M634.98,136.58L638.07,138.43M633.55,138.90L635.32,140.03M632.04,141.16L633.77,142.35M630.46,143.36L632.15,144.62M628.81,145.52L630.45,146.83M627.08,147.62L629.82,149.95M625.28,149.65L626.83,151.07M623.42,151.63L624.92,153.10M621.49,153.54L622.94,155.06M619.49,155.38L620.89,156.95M617.44,157.16L619.74,159.92M615.32,158.87L616.61,160.52M613.15,160.50L614.38,162.20M610.93,162.06L612.10,163.80M608.65,163.54L609.77,165.32M606.32,164.95L608.13,168.06M603.95,166.27L604.95,168.12M601.54,167.52L602.47,169.40M599.08,168.68L599.95,170.60M596.59,169.76L597.39,171.70M594.06,170.76L595.32,174.13M591.50,171.66L592.17,173.66M588.91,172.49L589.51,174.50M586.30,173.22L586.83,175.25M583.66,173.86L584.12,175.91M581.00,174.42L581.67,177.96M578.32,174.88L578.64,176.96M575.63,175.26L575.88,177.34M572.93,175.54L573.11,177.63M570.22,175.73L570.33,177.83M567.50,175.83L567.57,179.43M564.79,175.84L564.76,177.94M562.07,175.76L561.97,177.86M559.36,175.58L559.19,177.68M556.66,175.32L556.41,177.40M553.96,174.96L553.43,178.52M551.28,174.51L550.90,176.58M548.62,173.97L548.17,176.02M545.98,173.34L545.46,175.38M543.36,172.62L542.77,174.64M540.76,171.82L539.64,175.24M538.20,170.93L537.47,172.90M535.66,169.95L534.87,171.89M533.16,168.88L532.31,170.80M530.70,167.73L529.78,169.62M528.28,166.50L526.59,169.69M527.04,165.84L525.30,168.99M524.69,164.48L523.61,166.29M522.38,163.05L521.24,164.82M520.12,161.54L518.92,163.27M517.91,159.96L516.66,161.64M515.76,158.30L513.52,161.12M513.67,156.57L512.30,158.17M511.63,154.77L510.21,156.32M509.66,152.90L508.19,154.40M507.75,150.97L506.23,152.42M505.91,148.97L503.22,151.37M504.13,146.92L502.52,148.26M502.43,144.80L500.77,146.09M500.80,142.63L499.10,143.86M499.24,140.40L497.50,141.58M497.76,138.12L494.71,140.03M496.36,135.80L494.54,136.85M495.03,133.42L493.18,134.42M493.79,131.01L491.91,131.94M492.63,128.55L490.72,129.42M491.55,126.06L488.22,127.43M490.56,123.53L488.59,124.26M489.66,120.97L487.66,121.63M488.84,118.38L486.82,118.97M488.11,115.76L486.08,116.29M487.47,113.12L483.95,113.91M486.91,110.46L484.85,110.85M486.45,107.78L484.38,108.10M486.08,105.09L484.00,105.34M485.80,102.39L483.71,102.57M485.61,99.68L482.02,99.87M485.51,96.96L483.41,97.00M485.51,94.25L483.41,94.21M485.60,91.53L483.50,91.43M485.77,88.82L483.68,88.65M486.04,86.12L482.47,85.70M486.40,83.42L484.33,83.11M486.86,80.74L484.79,80.36M487.40,78.08L485.35,77.63M488.03,75.44L486.00,74.92M488.75,72.82L485.30,71.81M489.56,70.23L487.57,69.57M490.46,67.66L488.48,66.94M491.44,65.13L489.49,64.34M492.50,62.63L490.59,61.77M493.65,60.17L490.42,58.59M494.89,57.75L493.03,56.76M496.20,55.37L494.38,54.32M497.60,53.04L495.81,51.93M499.07,50.75L497.32,49.59M500.62,48.52L497.69,46.42M502.24,46.34L500.58,45.06M503.93,44.22L502.32,42.88M505.70,42.16L504.13,40.76M507.54,40.15L506.01,38.71M509.44,38.21L506.91,35.65M511.40,36.34L509.98,34.79M513.43,34.53L512.06,32.94M515.52,32.79L514.20,31.15M517.67,31.13L516.41,29.45M519.87,29.53L517.81,26.58M522.12,28.01L520.98,26.25M524.42,26.57L523.34,24.77M526.77,25.21L525.75,23.38M529.17,23.93L528.21,22.06M531.61,22.73L530.07,19.47M534.08,21.61L533.25,19.68M536.60,20.58L535.83,18.62M539.14,19.63L538.44,17.65M541.72,18.77L541.09,16.77M544.32,18.00L543.36,14.53M546.95,17.31L546.46,15.27M549.60,16.72L549.18,14.66M552.27,16.21L551.92,14.14M554.96,15.80L554.67,13.72M557.66,15.47L557.29,11.89" stroke="#111" stroke-width="1.1" fill="none"/>
<text x="549.00" y="9.80" font-size="7.3" fill="#111" text-anchor="middle" dominant-baseline="central" transform="rotate(-9.00 549.00 9.80)">1050bp</text>
<text x="579.00" y="9.40" font-size="7.0" fill="#111" text-anchor="middle" dominant-baseline="central" transform="rotate(5.00 579.00 9.40)">0bp</text>
<text x="481.50" y="69.80" font-size="7.3" fill="#111" text-anchor="middle" dominant-baseline="central" transform="rotate(-66.00 481.50 69.80)">560bp</text>
<text x="651.00" y="111.60" font-size="7.3" fill="#111" text-anchor="middle" dominant-baseline="central" transform="rotate(-70.00 651.00 111.60)">700bp</text>
<text x="519.00" y="170.00" font-size="7.3" fill="#111" text-anchor="middle" dominant-baseline="central" transform="rotate(36.00 519.00 170.00)">0bp</text>
<text x="539.60" y="179.60" font-size="7.0" fill="#111" text-anchor="middle" dominant-baseline="central" transform="rotate(27.00 539.60 179.60)">1400bp</text>
<text x="494.90" y="38.30" font-size="9.2" fill="#111" text-anchor="middle" dominant-baseline="central" transform="rotate(-51.00 494.90 38.30)">tax</text>
<text x="638.30" y="147.50" font-size="9.2" fill="#111" text-anchor="middle" dominant-baseline="central" transform="rotate(-54.30 638.30 147.50)">env</text>
<circle cx="565.9" cy="95.45" r="70.9" fill="none" stroke="#dccbef" stroke-width="0.6"/>
<path d="M614.55,43.88L617.81,42.86L616.83,46.13ZM636.51,101.86L639.33,103.79L636.15,105.04ZM575.21,165.74L573.95,168.91L572.03,166.08ZM530.95,157.14L527.86,158.66L527.75,155.21ZM520.37,149.80L517.84,150.40L518.10,147.81ZM514.91,144.71L511.44,144.47L511.57,141.00ZM505.57,132.70L502.08,132.24L503.44,128.99ZM504.44,130.81L501.22,130.24L502.53,127.24ZM499.82,121.14L497.05,119.72L498.32,116.88ZM497.14,112.75L494.60,110.88L496.14,108.13ZM495.10,99.20L491.61,97.06L495.00,94.77ZM495.30,88.97L492.24,86.65L495.76,85.11ZM498.43,73.66L496.92,71.40L499.51,70.57ZM499.09,71.70L498.51,69.19L500.64,67.74ZM502.61,63.49L501.16,60.61L504.37,60.23ZM508.75,53.49L507.35,49.63L511.44,50.06ZM518.92,42.35L518.28,38.18L522.26,39.57ZM520.57,40.94L520.29,36.66L524.37,37.99ZM529.70,34.49L530.59,31.28L533.78,32.24ZM537.45,30.51L538.84,27.65L541.82,28.76ZM543.99,28.02L544.88,24.31L547.65,26.94ZM545.08,27.68L546.62,24.29L549.66,26.43ZM547.21,27.06L549.03,25.14L551.52,26.02Z" fill="#b48cd8"/>
<circle cx="565.9" cy="95.45" r="63.7" fill="none" stroke="#b3c7ea" stroke-width="0.6"/>
<path d="M628.66,84.56L631.39,85.78L629.13,87.73ZM629.47,91.40L632.05,92.90L629.59,94.60ZM624.65,120.07L626.29,122.56L623.34,122.99ZM606.91,144.20L607.23,147.16L604.41,146.19ZM566.30,159.15L564.65,161.64L563.10,159.09ZM533.62,150.36L530.09,151.80L529.90,148.00ZM531.67,149.17L529.35,150.44L529.62,147.81ZM530.30,148.27L527.83,149.42L528.08,146.71ZM528.97,147.35L526.14,147.51L525.54,144.73ZM530.24,148.23L527.12,149.63L527.44,146.23ZM526.77,145.72L523.29,147.07L523.96,143.40ZM523.75,143.21L520.39,143.98L520.95,140.58ZM522.40,141.98L519.19,142.78L519.95,139.57ZM522.13,141.73L518.89,142.46L519.62,139.22ZM520.29,139.92L517.84,140.50L518.57,138.08ZM519.25,138.83L515.51,140.07L517.19,136.50ZM515.84,134.84L513.82,134.79L514.32,132.83ZM512.65,130.41L509.82,130.21L510.90,127.59ZM510.85,127.50L507.80,127.45L509.39,124.85ZM509.88,125.78L507.79,125.08L508.45,122.97ZM510.02,126.03L506.21,125.80L508.27,122.58ZM509.08,124.25L505.85,124.20L507.84,121.66ZM508.23,122.50L505.25,122.40L507.17,120.12ZM507.68,121.29L504.32,120.91L506.43,118.26ZM508.75,123.58L505.64,122.96L507.21,120.21ZM506.96,119.62L504.43,119.19L506.01,117.16ZM506.22,117.72L501.74,117.07L504.92,113.85ZM505.62,116.03L501.67,115.33L504.53,112.51ZM504.96,113.99L502.71,113.07L504.16,111.12ZM504.16,111.14L501.28,110.14L503.45,107.99ZM503.32,107.33L498.79,106.72L502.87,104.66ZM503.03,105.67L498.70,104.02L502.47,101.33ZM502.50,101.66L498.02,100.57L502.29,98.82ZM502.21,96.61L498.65,94.86L502.24,93.18ZM502.21,94.48L500.33,93.15L502.30,91.95ZM502.25,92.99L498.30,91.51L502.39,90.50ZM502.52,89.07L498.44,86.41L503.08,84.92ZM503.12,84.65L501.97,82.43L503.90,80.84ZM503.46,82.84L502.63,80.88L504.23,79.48ZM504.46,78.64L501.63,76.18L505.34,75.69ZM505.01,76.75L503.41,74.11L506.29,73.00ZM505.44,75.38L503.81,72.63L506.84,71.59ZM506.22,73.19L503.95,70.10L507.74,69.48ZM504.87,77.19L502.23,74.13L506.18,73.28ZM505.45,75.36L504.20,73.07L506.63,72.11ZM506.41,72.69L503.22,70.10L507.31,70.46ZM506.89,71.47L505.67,69.57L507.89,69.14ZM508.34,68.16L507.51,65.84L509.88,65.13ZM509.00,66.82L508.90,64.67L510.75,63.57ZM509.98,64.94L508.92,62.56L511.51,62.29ZM510.93,63.26L510.27,61.00L512.59,60.58ZM511.56,62.21L511.43,59.97L513.53,59.19ZM511.60,62.15L509.24,58.43L513.59,59.09ZM513.13,59.77L511.76,56.43L515.36,56.68ZM515.75,56.18L514.39,53.19L517.58,53.94ZM518.18,53.25L518.01,50.88L520.39,50.87ZM521.39,49.88L519.53,45.57L523.69,47.74ZM524.50,47.04L524.32,44.18L527.08,44.94ZM525.97,45.82L526.51,43.06L529.31,43.31ZM527.45,44.66L526.68,40.54L530.32,42.61ZM529.43,43.22L529.69,41.20L531.66,41.73ZM529.30,43.32L529.37,41.10L531.45,41.87ZM530.55,42.46L531.44,40.02L534.02,40.30ZM532.56,41.17L533.69,39.03L536.10,39.15ZM534.30,40.14L533.47,36.05L536.47,38.96ZM537.21,38.58L536.77,34.65L539.56,37.45ZM541.35,36.67L542.15,34.52L544.19,35.56ZM545.63,35.06L546.28,32.49L548.27,34.24ZM547.40,34.50L548.42,32.20L550.47,33.65ZM549.06,34.02L550.29,32.28L552.20,33.24ZM550.90,33.54L552.01,31.02L554.06,32.86ZM547.18,34.56L548.10,30.50L550.96,33.53ZM550.56,33.62L551.72,30.28L554.16,32.84ZM552.57,33.16L554.16,31.01L556.40,32.46ZM555.93,32.53L557.47,29.41L559.74,32.05ZM557.62,32.29L559.24,30.60L561.17,31.93Z" fill="#4a78bd"/>
<circle cx="565.9" cy="95.45" r="56.5" fill="none" stroke="#cce3b8" stroke-width="0.6"/>
<path d="M587.92,43.42L590.43,41.79L590.83,44.75ZM604.11,53.83L607.01,53.13L606.40,56.06ZM612.04,62.85L614.61,63.06L613.82,65.51ZM614.26,66.23L616.80,66.62L615.83,69.01ZM621.96,102.51L624.21,104.47L621.47,105.67ZM600.92,139.79L601.14,142.77L598.35,141.70ZM580.35,150.07L579.25,152.41L577.23,150.80ZM551.90,150.19L549.80,151.69L548.82,149.31ZM564.46,151.93L562.73,154.36L561.26,151.76ZM535.98,143.38L533.58,143.96L533.21,141.53ZM530.26,139.29L527.72,140.26L528.26,137.59ZM529.39,138.57L527.24,138.86L527.29,136.70ZM528.34,137.65L526.10,137.51L525.84,135.29ZM526.34,135.79L524.06,135.80L524.15,133.52ZM525.57,135.02L522.42,135.84L523.47,132.76ZM521.52,130.41L518.32,131.03L519.82,128.14ZM517.36,124.37L514.86,124.31L516.10,122.14ZM516.55,122.97L514.14,122.11L514.84,119.65ZM515.60,121.19L513.60,120.71L514.47,118.84ZM514.86,119.69L512.78,118.61L513.41,116.35ZM513.73,117.14L512.33,116.14L512.69,114.45ZM514.54,119.00L512.56,117.92L513.17,115.75ZM513.81,117.33L512.23,116.18L512.63,114.27ZM513.13,115.64L511.75,114.55L512.14,112.84ZM512.42,113.67L510.69,112.73L511.58,110.98ZM513.30,116.07L511.08,115.13L512.19,113.00ZM512.31,113.35L510.37,112.72L511.61,111.10ZM511.90,112.07L508.78,111.16L511.00,108.78ZM511.32,110.05L508.78,108.85L510.52,106.65ZM510.76,107.75L507.79,106.66L510.14,104.54ZM511.01,108.85L508.56,107.97L510.42,106.15ZM509.91,103.00L507.44,102.03L509.63,100.53ZM509.46,98.02L507.85,96.23L509.41,94.39ZM509.41,94.35L506.39,93.01L509.51,91.92ZM509.48,92.47L507.26,90.74L509.73,89.39ZM509.70,89.66L508.03,88.20L510.01,87.20ZM509.92,87.77L508.62,86.00L510.42,84.74ZM510.26,85.63L508.82,83.91L510.82,82.87ZM510.81,82.90L508.97,81.10L511.44,80.39ZM511.86,78.96L510.52,77.01L512.76,76.26ZM513.88,73.40L512.87,70.98L515.37,70.17ZM514.76,71.42L514.50,69.96L515.82,69.29ZM516.79,67.51L516.08,65.62L518.08,65.36ZM519.85,62.72L518.59,59.64L521.90,60.01ZM522.05,59.83L521.33,57.57L523.67,57.91ZM525.52,55.93L525.32,53.86L527.38,54.12ZM527.02,54.46L526.49,51.13L529.73,52.05ZM530.48,51.43L530.32,48.63L532.97,49.54ZM536.63,47.13L536.50,44.21L538.95,45.79ZM540.57,44.94L541.07,42.03L543.62,43.53ZM542.80,43.89L543.44,41.53L545.56,42.74ZM545.04,42.94L545.91,40.91L547.90,41.89ZM546.88,42.25L547.87,40.59L549.64,41.34ZM552.18,40.64L552.69,37.45L554.54,40.10ZM557.43,39.59L558.64,38.11L560.18,39.24ZM558.28,39.47L560.01,38.31L561.94,39.09Z" fill="#8cc056"/>
<circle cx="565.9" cy="95.45" r="49.3" fill="none" stroke="#f5d5a8" stroke-width="0.6"/>
<path d="M585.52,50.22L588.69,47.27L588.42,51.59ZM601.38,61.22L604.70,60.38L603.52,63.59ZM604.92,65.32L608.31,64.85L606.79,67.92ZM612.56,79.52L615.44,80.32L613.49,82.58ZM615.18,96.69L618.11,98.46L615.00,99.89ZM609.40,118.65L611.22,121.55L607.80,121.43ZM564.49,144.73L562.74,147.15L561.29,144.53ZM543.17,139.20L539.98,141.42L540.24,137.55ZM539.54,137.11L536.52,138.96L537.10,135.46ZM535.77,134.47L532.35,136.19L533.38,132.50ZM533.05,132.21L530.94,132.66L531.25,130.52ZM532.23,131.46L530.46,130.97L529.97,129.20ZM530.94,130.21L527.94,130.65L528.61,127.69ZM528.66,127.76L525.17,128.64L526.74,125.40ZM527.08,125.84L524.01,126.25L525.31,123.43ZM526.46,125.03L523.30,125.57L524.87,122.78ZM525.55,123.77L522.72,124.06L524.09,121.58ZM525.11,123.15L522.71,123.10L523.67,120.89ZM523.90,121.27L521.89,120.95L522.61,119.04ZM522.91,119.58L521.73,118.83L521.77,117.43ZM522.40,118.65L519.04,118.95L521.29,116.44ZM521.41,116.69L519.16,115.51L519.85,113.07ZM520.60,114.89L519.09,114.06L519.61,112.42ZM520.02,113.48L517.90,112.93L519.17,111.15ZM519.26,111.41L515.60,110.89L518.33,108.41ZM518.43,108.76L516.06,107.90L517.75,106.02ZM517.54,105.04L515.05,104.17L517.11,102.53ZM516.62,96.81L513.74,95.62L516.61,94.41ZM516.60,95.51L515.18,94.25L516.66,93.05ZM516.64,93.53L514.02,91.99L516.82,90.81ZM516.72,92.08L513.56,89.80L517.13,88.24ZM517.04,88.86L515.13,86.83L517.61,85.54ZM517.55,85.81L515.84,83.47L518.43,82.16ZM517.95,83.97L517.13,81.94L518.89,80.61ZM518.45,82.05L515.92,79.36L519.55,78.65ZM520.51,76.22L517.81,73.34L521.75,73.51ZM522.21,72.62L520.09,69.61L523.76,69.86ZM522.84,71.44L521.34,68.57L524.58,68.56ZM524.86,68.13L523.47,65.52L526.39,65.96ZM528.37,63.49L527.66,60.39L530.81,60.82ZM533.36,58.41L533.50,55.62L536.27,56.05ZM547.72,49.62L547.99,45.77L550.66,48.57ZM525.89,66.65L523.70,61.28L529.41,62.30ZM539.54,53.79L539.85,50.33L543.00,51.79Z" fill="#eea94a"/>
<circle cx="565.9" cy="95.45" r="42.1" fill="none" stroke="#f0bdd0" stroke-width="0.6"/>
<path d="M593.31,63.49L596.88,61.99L595.66,65.67ZM606.10,82.93L609.92,83.56L606.93,86.02ZM607.98,94.30L610.00,95.92L607.95,97.50ZM606.63,106.10L608.11,108.22L605.70,109.16ZM604.51,112.23L606.10,114.77L603.13,115.11ZM603.50,114.38L604.95,117.00L601.96,117.18ZM595.39,125.49L595.91,128.44L593.03,127.65ZM586.93,131.92L586.70,134.90L584.10,133.41ZM579.25,135.38L578.43,138.25L576.18,136.28ZM555.82,136.32L553.58,138.31L552.74,135.44ZM571.22,137.21L569.85,139.87L568.03,137.50ZM545.45,132.25L543.51,133.46L543.63,131.18ZM543.61,131.16L541.86,131.14L541.19,129.54ZM542.28,130.30L540.38,130.91L540.35,128.91ZM541.35,129.65L539.21,130.03L539.03,127.86ZM539.90,128.56L537.72,129.34L538.09,127.06ZM543.03,130.80L540.13,132.36L540.60,129.10ZM539.79,128.48L537.87,128.99L538.04,127.01ZM537.89,126.88L536.62,126.75L536.40,125.49ZM537.85,126.84L534.89,128.42L536.29,125.38ZM536.30,125.39L533.05,126.39L534.25,123.21ZM533.17,121.93L529.90,122.81L531.62,119.90ZM531.40,119.58L529.26,118.97L529.60,116.77ZM528.84,115.43L526.70,114.89L527.57,112.87ZM526.93,111.38L525.18,110.67L526.03,108.98ZM526.32,109.79L523.50,109.02L525.35,106.76ZM525.02,105.51L522.28,104.91L524.52,103.22ZM524.51,103.15L522.78,102.05L524.10,100.49ZM524.32,102.06L522.83,100.48L523.92,98.59ZM524.18,101.06L520.65,99.92L523.88,98.10ZM523.86,97.70L521.68,95.96L523.82,94.18ZM523.91,92.45L521.80,90.59L524.26,89.23ZM524.69,86.84L521.82,84.88L525.27,84.44ZM525.16,84.82L524.24,82.90L526.07,81.80ZM525.86,82.45L525.15,81.11L526.54,80.50ZM526.04,81.91L524.45,79.96L526.93,79.52ZM527.75,77.66L526.58,75.86L528.71,75.72ZM528.51,76.10L528.32,74.71L529.60,74.13ZM529.37,74.52L527.46,71.21L531.27,71.50ZM532.31,70.07L531.87,68.11L533.88,68.12ZM535.99,65.82L535.26,63.19L537.86,64.05ZM538.86,63.18L538.84,60.35L541.57,61.09ZM542.42,60.50L542.90,58.14L545.22,58.78ZM543.77,59.64L544.38,57.82L546.25,58.22ZM544.70,59.08L545.68,57.49L547.55,57.56ZM549.46,56.69L550.09,53.29L552.80,55.44ZM551.22,55.99L552.11,54.41L553.77,55.13ZM552.68,55.48L553.08,53.12L554.73,54.86ZM553.90,55.10L554.53,52.24L556.49,54.42ZM554.96,54.80L555.98,52.56L557.88,54.12ZM557.44,54.21L558.10,51.05L559.80,53.79ZM559.46,53.85L560.54,51.07L562.25,53.51Z" fill="#e06e98"/>
<circle cx="565.9" cy="95.45" r="34.9" fill="none" stroke="#b5d7bb" stroke-width="0.6"/>
<path d="M596.28,78.27L598.82,78.78L597.72,81.13ZM592.68,117.83L593.10,120.38L590.52,120.19ZM549.18,126.08L547.96,126.78L547.95,125.38ZM547.07,124.83L544.83,126.38L545.45,123.73ZM544.85,123.29L542.53,124.48L543.20,121.96ZM543.11,121.88L541.69,122.24L541.91,120.80ZM541.08,119.99L539.05,120.60L539.79,118.61ZM539.83,118.65L537.40,119.43L538.58,117.17ZM539.02,117.72L537.23,117.83L537.78,116.12ZM537.57,115.83L534.86,116.11L536.17,113.73ZM536.85,114.79L534.65,114.94L535.76,113.04ZM536.15,113.69L533.62,113.69L534.92,111.52ZM534.97,111.62L533.30,111.32L534.09,109.81ZM534.57,110.82L532.35,110.94L533.88,109.34ZM534.16,109.96L532.21,109.48L533.24,107.75ZM533.56,108.58L531.66,107.92L532.70,106.20ZM532.79,106.48L531.69,106.00L532.33,104.99ZM532.08,104.07L531.19,103.41L531.71,102.43ZM531.85,103.09L530.50,102.18L531.42,100.84ZM533.13,107.47L530.66,107.58L532.68,106.14ZM532.39,105.20L531.15,104.64L531.95,103.54ZM532.66,106.08L530.64,105.92L532.24,104.68ZM532.10,104.13L530.91,103.12L531.56,101.70ZM531.52,101.45L529.85,100.59L531.21,99.29ZM531.29,99.91L529.59,99.27L531.12,98.30ZM531.06,97.49L529.28,96.82L531.00,96.03ZM532.11,104.17L530.38,103.79L531.76,102.69ZM531.50,101.35L529.99,100.79L531.27,99.81ZM531.36,100.46L530.35,99.31L531.09,97.97ZM531.19,99.05L529.72,97.84L531.01,96.46ZM531.35,100.40L529.67,99.30L531.08,97.88ZM531.06,97.51L529.56,96.86L531.01,96.09ZM531.00,95.60L529.74,94.52L531.05,93.52ZM531.00,95.80L529.31,94.75L531.04,93.76ZM531.01,94.67L529.09,93.30L531.16,92.16ZM531.07,93.30L528.54,91.84L531.30,90.90ZM531.25,91.26L529.99,90.34L531.46,89.81ZM531.27,91.10L528.93,89.97L531.50,89.58ZM531.56,89.23L529.70,87.49L532.11,86.70ZM531.58,89.11L529.49,87.91L531.89,87.63ZM531.89,87.61L531.02,86.29L532.43,85.56ZM532.42,85.60L531.99,84.53L532.96,83.91ZM532.38,85.73L530.22,83.69L533.17,83.33ZM533.19,83.28L532.35,81.54L534.17,80.91ZM533.75,81.87L533.31,80.41L534.70,79.80ZM534.56,80.09L534.44,78.57L535.77,77.83ZM533.93,81.46L532.76,79.54L534.99,79.25ZM534.85,79.51L533.87,77.75L535.89,77.64ZM535.67,78.02L534.96,76.20L536.90,76.04ZM536.87,76.09L536.73,74.40L538.37,74.00ZM535.44,78.42L534.44,76.38L536.71,76.32ZM537.00,75.89L535.75,73.87L538.07,74.40ZM538.11,74.34L537.59,72.74L539.26,72.90ZM538.66,73.63L537.67,71.76L539.68,72.42ZM539.78,72.31L539.20,70.71L540.84,71.16ZM540.94,71.05L540.67,69.75L541.97,70.05ZM540.24,71.80L539.70,69.66L541.84,70.17ZM542.21,69.83L541.25,67.27L543.66,68.55ZM543.14,68.99L542.28,66.47L544.57,67.82ZM545.35,67.24L545.21,65.61L546.69,66.31ZM547.20,65.98L547.26,64.70L548.43,65.24ZM547.96,65.51L547.48,63.02L549.37,64.71ZM549.35,64.72L549.44,62.77L551.06,63.86ZM549.98,64.39L549.93,62.54L551.35,63.73ZM551.89,63.48L552.39,62.13L553.68,62.76ZM554.85,62.35L555.22,61.16L556.20,61.93ZM556.10,61.96L556.63,59.21L558.41,61.36ZM557.79,61.51L558.62,59.40L560.20,61.02ZM559.64,61.12L560.54,59.81L561.79,60.79ZM558.46,61.35L558.83,59.30L559.94,61.06ZM560.02,61.05L560.78,59.14L562.04,60.76ZM560.62,60.95L561.19,59.00L562.25,60.74Z" fill="#4a9858"/>
<text x="564.6" y="16.70" font-size="7.7" fill="#111" text-anchor="middle">A</text>
<text x="564.6" y="24.00" font-size="7.7" fill="#111" text-anchor="middle">B</text>
<text x="564.6" y="31.30" font-size="7.7" fill="#111" text-anchor="middle">C</text>
<text x="564.6" y="38.60" font-size="7.7" fill="#111" text-anchor="middle">D</text>
<text x="564.6" y="45.90" font-size="7.7" fill="#111" text-anchor="middle">E</text>
<text x="564.6" y="53.20" font-size="7.7" fill="#111" text-anchor="middle">F</text>
<text x="564.6" y="60.50" font-size="7.7" fill="#111" text-anchor="middle">G</text>
<text x="655.7" y="5.90" font-size="8.1" fill="#111">A: Gene</text>
<text x="655.7" y="15.75" font-size="8.1" fill="#111">B: ac4C</text>
<text x="655.7" y="25.60" font-size="8.1" fill="#111">C: m1A</text>
<text x="655.7" y="35.45" font-size="8.1" fill="#111">D: m5C</text>
<text x="655.7" y="45.30" font-size="8.1" fill="#111">E: m6A</text>
<text x="655.7" y="55.15" font-size="8.1" fill="#111">F: m7G</text>
<text x="655.7" y="65.00" font-size="8.1" fill="#111">G: Ψ</text>
</svg></body></html>
